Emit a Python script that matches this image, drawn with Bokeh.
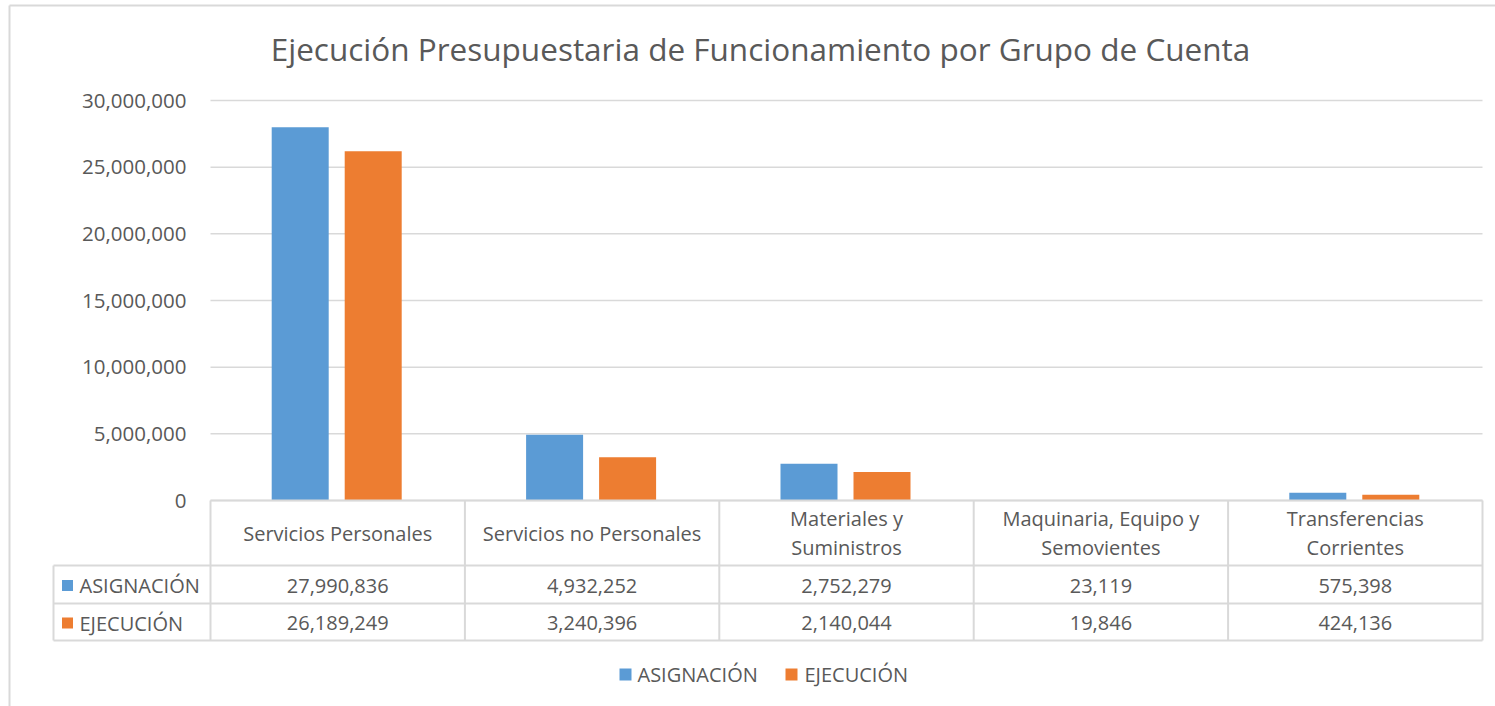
from bokeh.plotting import figure
from bokeh.models import Range1d
from bokeh.core.properties import value
from bokeh.embed import file_html
from bokeh.resources import INLINE

# ---------------- data ----------------
title = "Ejecución Presupuestaria de Funcionamiento por Grupo de Cuenta"
categories = ["Servicios Personales", "Servicios no Personales", "Materiales y\nSuministros",
              "Maquinaria, Equipo y\nSemovientes", "Transferencias\nCorrientes"]
series_names = ["ASIGNACIÓN", "EJECUCIÓN"]
asignacion = [27990836, 4932252, 2752279, 23119, 575398]
ejecucion = [26189249, 3240396, 2140044, 19846, 424136]
y_ticks = [0, 5000000, 10000000, 15000000, 20000000, 25000000, 30000000]
y_tick_labels = ["{:,}".format(v) for v in y_ticks]

# ---------------- styles / layout ----------------
W, H = 1495, 706
PL, PR, PT, PB = 210, 1482, 100, 500      # plot area in pixels
N = len(categories)
CW = (PR - PL) / N                         # px per category
YPP = y_ticks[-1] / (PB - PT)              # data units per px
FONT = value("Open Sans")
TXT = "#595959"
GRID = "#D9D9D9"
BLUE = "#5B9BD5"
ORANGE = "#ED7D31"
colors = [BLUE, ORANGE]


def X(px):
    return (px - PL) / CW


def Y(py):
    return (PB - py) * YPP


p = figure(width=W, height=H,
           x_range=Range1d(X(0), X(W)), y_range=Range1d(Y(H), Y(0)),
           min_border=0, toolbar_location=None, output_backend="svg",
           x_axis_location=None, y_axis_location=None)
p.outline_line_color = None
p.grid.grid_line_color = None
p.background_fill_color = "white"
p.border_fill_color = "white"

# outer chart border
p.segment(x0=[X(9), X(9)], y0=[Y(5), Y(5)], x1=[X(W + 5), X(9)], y1=[Y(5), Y(H + 5)],
          line_color=GRID, line_width=2)

# gridlines
p.segment(x0=[0] * len(y_ticks), x1=[N] * len(y_ticks), y0=y_ticks, y1=y_ticks,
          line_color=GRID, line_width=1.5)

# y tick labels
p.text(x=[X(186)] * len(y_ticks), y=y_ticks, text=y_tick_labels,
       text_font=FONT, text_font_size="20.5px", text_color=TXT,
       text_align="right", text_baseline="middle")

# bars
xc = [i + 0.5 for i in range(N)]
bw = 57 / CW
off_a = -37.5 / CW
off_e = 35.5 / CW
p.vbar(x=[c + off_a for c in xc], top=asignacion, bottom=0, width=bw, fill_color=BLUE, line_color=None)
p.vbar(x=[c + off_e for c in xc], top=ejecucion, bottom=0, width=bw, fill_color=ORANGE, line_color=None)

# title
p.text(x=[X(760)], y=[Y(48)], text=[title], text_font=FONT,
       text_font_size="31.5px", text_color=TXT, text_align="center", text_baseline="middle")

# data table
ROW0, ROW1, ROW2, ROW3 = 500, 565, 603, 640
LEFT = 53
# horizontal lines
p.segment(x0=[X(LEFT)] * 3, x1=[N] * 3, y0=[Y(ROW1), Y(ROW2), Y(ROW3)],
          y1=[Y(ROW1), Y(ROW2), Y(ROW3)], line_color=GRID, line_width=2)
p.segment(x0=[0], x1=[N], y0=[0], y1=[0], line_color=GRID, line_width=2)
# vertical lines
p.segment(x0=list(range(N + 1)), x1=list(range(N + 1)), y0=[0] * (N + 1),
          y1=[Y(ROW3)] * (N + 1), line_color=GRID, line_width=2)
p.segment(x0=[X(LEFT)], x1=[X(LEFT)], y0=[Y(ROW1)], y1=[Y(ROW3)], line_color=GRID, line_width=2)

# category labels
p.text(x=xc, y=[Y((ROW0 + ROW1) / 2)] * N, text=categories, text_font=FONT,
       text_font_size="20px", text_color=TXT, text_align="center", text_baseline="middle",
       text_line_height=1.1)

# values
for vals, r0, r1 in [(asignacion, ROW1, ROW2), (ejecucion, ROW2, ROW3)]:
    p.text(x=xc, y=[Y((r0 + r1) / 2 + 1)] * N, text=["{:,}".format(v) for v in vals],
           text_font=FONT, text_font_size="20px", text_color=TXT,
           text_align="center", text_baseline="middle")

# row legend keys
row_y = [Y((ROW1 + ROW2) / 2 + 1), Y((ROW2 + ROW3) / 2 + 1)]
p.rect(x=[X(67)] * 2, y=row_y, width=11 / CW, height=11 * YPP, fill_color=colors, line_color=None)
p.text(x=[X(79)] * 2, y=row_y, text=series_names, text_font=FONT, text_font_size="20px",
       text_color=TXT, text_align="left", text_baseline="middle")

# bottom legend
leg_y = Y(674)
p.rect(x=[X(625), X(791)], y=[leg_y] * 2, width=12 / CW, height=12 * YPP,
       fill_color=colors, line_color=None)
p.text(x=[X(637), X(804)], y=[leg_y] * 2, text=series_names, text_font=FONT,
       text_font_size="20px", text_color=TXT, text_align="left", text_baseline="middle")

open("out.html", "w").write(file_html(p, INLINE))
